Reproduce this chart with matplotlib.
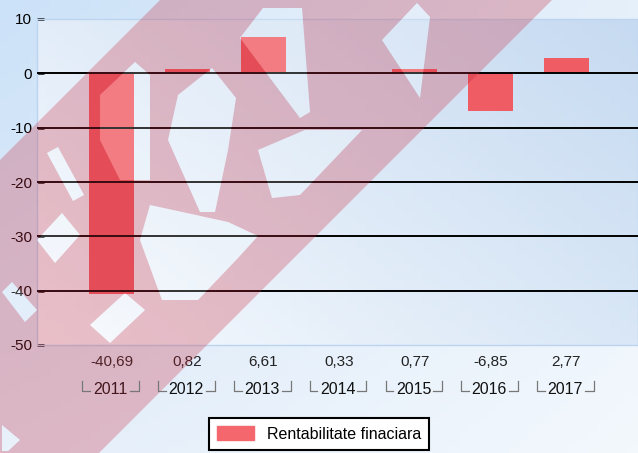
import numpy as np
import matplotlib
matplotlib.use("Agg")
import matplotlib.pyplot as plt
from matplotlib.patches import PathPatch, Polygon
from matplotlib.path import Path
from matplotlib.colors import to_rgb

years = ["2011", "2012", "2013", "2014", "2015", "2016", "2017"]
values = [-40.69, 0.82, 6.61, 0.33, 0.77, -6.85, 2.77]
value_labels = ["-40,69", "0,82", "6,61", "0,33", "0,77", "-6,85", "2,77"]
yticks = [10, 0, -10, -20, -30, -40, -50]
series_name = "Rentabilitate finaciara"

W, H = 638, 453
BAR = "#ef5c64"
plt.rcParams['font.family'] = ['Liberation Sans', 'DejaVu Sans']

# watermark outline (pixels), holes cut out of a diagonal band
WM_BAND = (160, 552)
WM_HOLES = [
    [(47, 153), (58, 147), (84, 195), (73, 201)],
    [(100, 95), (135, 62), (150, 75), (150, 180), (120, 180), (100, 140)],
    [(178, 95), (212, 68), (236, 98), (228, 150), (215, 212), (200, 212), (168, 140)],
    [(240, 38), (263, 8), (302, 8), (310, 112), (300, 118)],
    [(382, 40), (417, 3), (430, 17), (420, 98)],
    [(150, 205), (228, 222), (258, 236), (238, 258), (198, 300), (162, 300), (140, 240)],
    [(258, 150), (305, 130), (362, 130), (300, 195), (272, 198)],
    [(90, 325), (125, 293), (145, 310), (110, 343)],
    [(37, 240), (62, 213), (80, 235), (55, 263)],
    [(2, 292), (12, 282), (37, 310), (25, 322)],
    [(2, 425), (20, 440), (8, 451), (2, 451)],
]


def gradient(c00, c10, c01, c11, n=64):
    # bilinear gradient, c00 top-left, c10 top-right, c01 bottom-left, c11 bottom-right
    a = np.array([to_rgb(c) for c in (c00, c10, c01, c11)])
    t = np.linspace(0, 1, n)
    X, Y = np.meshgrid(t, t)
    img = (a[0] * ((1 - X) * (1 - Y))[..., None] + a[1] * (X * (1 - Y))[..., None]
           + a[2] * ((1 - X) * Y)[..., None] + a[3] * (X * Y)[..., None])
    return img


def signed_area(pts):
    p = np.asarray(pts, float)
    return 0.5 * np.sum(p[:, 0] * np.roll(p[:, 1], -1) - np.roll(p[:, 0], -1) * p[:, 1])


def main():
    fig = plt.figure(figsize=(W / 100, H / 100), dpi=100)

    # page background
    bg = fig.add_axes([0, 0, 1, 1], zorder=-10)
    bg.imshow(gradient("#cce2f8", "#e6f0fb", "#e4eefa", "#f3f8fd"),
              extent=[0, 1, 0, 1], aspect="auto", origin="upper")
    bg.axis("off")

    x0, x1, ytop, ybot = 37, 638, 19, 345
    ax = fig.add_axes([x0 / W, 1 - ybot / H, (x1 - x0) / W, (ybot - ytop) / H])
    ax.set_facecolor("none")

    spacing = 75.8
    left = -(111.5 - x0) / spacing
    ax.set_xlim(left, left + (x1 - x0) / spacing)
    ax.set_ylim(-50, 10)

    ax.imshow(gradient("#e3edf9", "#c6daf1", "#f7fafe", "#d9e7f6"),
              extent=[*ax.get_xlim(), -50, 10], aspect="auto", origin="upper", zorder=0)

    x = np.arange(len(years))
    ax.bar(x, values, width=0.594, color=BAR, zorder=2)

    for v in [0, -10, -20, -30, -40]:
        ax.axhline(v, color="black", lw=1.4, zorder=3)

    ax.set_yticks(yticks)
    ax.set_yticklabels([str(t) for t in yticks], fontsize=11)
    ax.tick_params(axis="y", direction="in", length=5, width=1.8, color="black", pad=3.5)
    ax.set_xticks([])
    for s in ax.spines.values():
        s.set_color("#bcd4ef")
        s.set_linewidth(1)

    xt = ax.get_xaxis_transform()
    for xi, lab, yr in zip(x, value_labels, years):
        ax.text(xi, -0.052, lab, transform=xt, ha="center", va="center",
                fontsize=11, color="#222222")
        ax.text(xi - 0.015, -0.137, yr, transform=xt, ha="center", va="center",
                fontsize=11.5, color="#111111")

    # overlay in pixel coordinates for the category brackets and the watermark
    ov = fig.add_axes([0, 0, 1, 1], zorder=5)
    ov.set_xlim(0, W)
    ov.set_ylim(H, 0)
    ov.axis("off")
    ov.patch.set_alpha(0)

    for xi in x:
        cx = ax.transData.transform((xi, 0))[0]
        ov.plot([cx - 29, cx - 29, cx - 21.5], [381, 391, 391], color="#777777", lw=0.9)
        ov.plot([cx + 18.5, cx + 27.5, cx + 27.5], [391, 391, 381], color="#777777", lw=0.9)

    leg = fig.legend([plt.Rectangle((0, 0), 1, 1, color="#f4676c")], [series_name],
                     loc="center", bbox_to_anchor=(319 / W, 1 - 434 / H), fontsize=11.5,
                     frameon=True, fancybox=False, edgecolor="black", framealpha=1,
                     handlelength=2.3, handleheight=1.0, borderpad=0.5)
    leg.get_frame().set_linewidth(1.5)

    u0, u1 = WM_BAND
    band = [((u + v) / 2, (u - v) / 2) for u, v in [(u0, -900), (u1, -900), (u1, 900), (u0, 900)]]
    sa = np.sign(signed_area(band))
    verts, codes = [], []
    for poly in [band] + WM_HOLES:
        pts = list(poly)
        if poly is not band and np.sign(signed_area(pts)) == sa:
            pts = pts[::-1]
        verts += pts + [pts[0]]
        codes += [Path.MOVETO] + [Path.LINETO] * (len(pts) - 1) + [Path.CLOSEPOLY]
    ov.add_patch(PathPatch(Path(verts, codes), facecolor="#c8283c", alpha=0.28, lw=0))
    for h in WM_HOLES:
        ov.add_patch(Polygon(h, closed=True, facecolor="white", alpha=0.2, lw=0))

    fig.savefig("out.png", dpi=100)


if __name__ == "__main__":
    main()
